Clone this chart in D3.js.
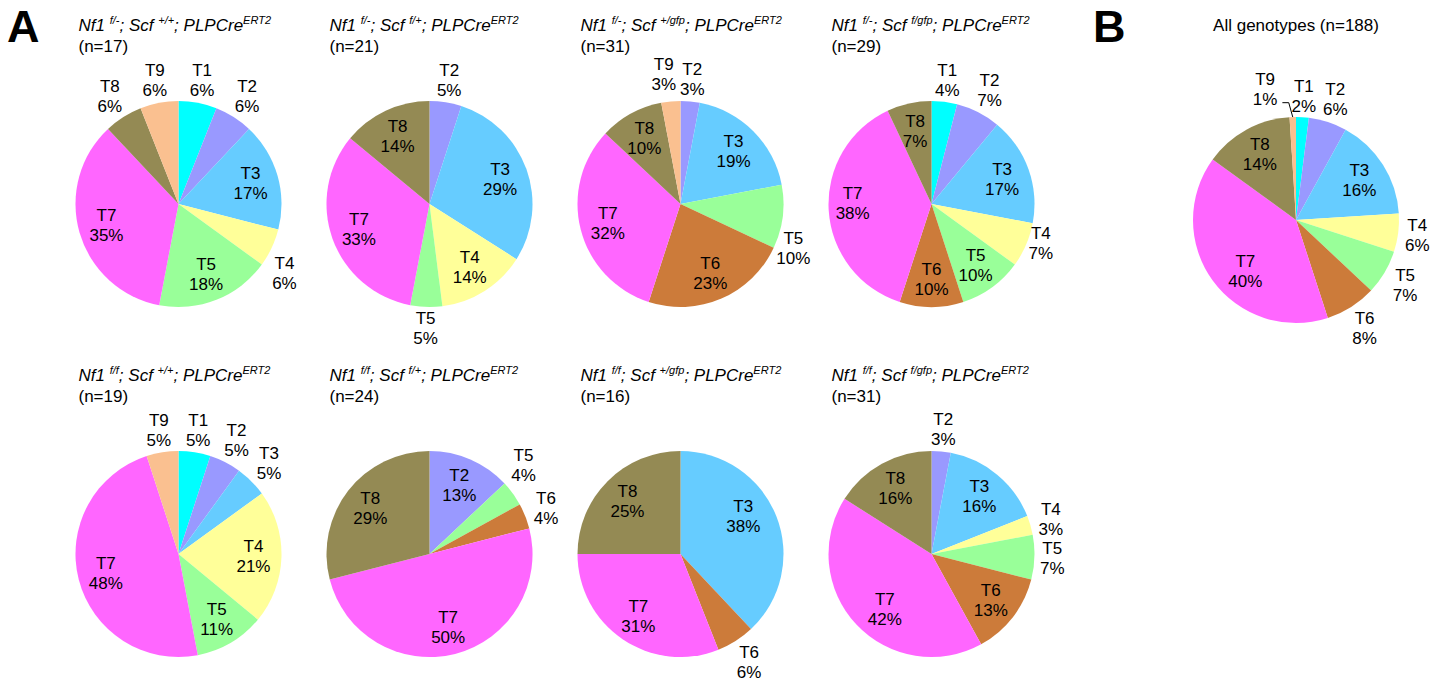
<!DOCTYPE html>
<html><head><meta charset="utf-8">
<script src="https://cdn.jsdelivr.net/npm/d3@7"></script>
<style>
body{margin:0;background:#fff}
svg{display:block}
text{font-family:"Liberation Sans",Arial,Helvetica,sans-serif;fill:#000}
</style>
</head><body>
<svg id="chart" width="1439" height="683"></svg>
<script>
// ---------- DATA ----------
const types = ["T1","T2","T3","T4","T5","T6","T7","T8","T9"];
const typeColors = ["#00FFFF","#9999FF","#66CCFF","#FFFF99","#99FF99","#CC7B3A","#FF66FF","#948A54","#FAC090"];

const nf1Alleles = ["f/-","f/-","f/-","f/-","f/f","f/f","f/f","f/f"];
const scfAlleles = ["+/+","f/+","+/gfp","f/gfp","+/+","f/+","+/gfp","f/gfp"];
const groupN = [17,21,31,29,19,24,16,31];

// percentage of each tumour type T1..T9 per genotype (0 = absent)
const pctNf1fmScfWT    = [6,6,17,6,18,0,35,6,6];
const pctNf1fmScfFl    = [0,5,29,14,5,0,33,14,0];
const pctNf1fmScfGfp   = [0,3,19,0,10,23,32,10,3];
const pctNf1fmScfFlGfp = [4,7,17,7,10,10,38,7,0];
const pctNf1ffScfWT    = [5,5,5,21,11,0,48,0,5];
const pctNf1ffScfFl    = [0,13,0,0,4,4,50,29,0];
const pctNf1ffScfGfp   = [0,0,38,0,0,6,31,25,0];
const pctNf1ffScfFlGfp = [0,3,16,3,7,13,42,16,0];
const groupPct = [pctNf1fmScfWT,pctNf1fmScfFl,pctNf1fmScfGfp,pctNf1fmScfFlGfp,
                  pctNf1ffScfWT,pctNf1ffScfFl,pctNf1ffScfGfp,pctNf1ffScfFlGfp];

const pctAll = [2,6,16,6,7,8,40,14,1];
const nAll = 188;

// ---------- LAYOUT (label placement, not data) ----------
const R = 103;
const colX = [178.5, 429.5, 680.5, 931.5];
const rowY = [204, 554];
const allCenter = [1296, 220];
const outsideLabels = [
  ["T1","T2","T4","T8","T9"], ["T2","T5"], ["T2","T5","T9"], ["T1","T2","T4"],
  ["T1","T2","T3","T9"], ["T5","T6"], ["T6"], ["T2","T4","T5"]
];
const outsideAll = ["T1","T2","T4","T5","T6","T9"];
const labelNudges = [
  {T4:[-8,15]}, {}, {T5:[-13,28],T9:[-5,-5]}, {T4:[-6,-11],T7:[-4,-6]},
  {}, {T5:[-9,-14]}, {T3:[-7,-10]}, {T7:[8,4]}
];
const nudgesAll = {T9:[-27,-7], T7:[10,7]};
const leaderAll = ["T9"];

// ---------- DRAW ----------
const svg = d3.select("#chart");
const pie = d3.pie().sort(null).value(d => d.v);
const arcGen = d3.arc().innerRadius(0).outerRadius(R);
const labelArc = d3.arc().innerRadius(75).outerRadius(75);
const FS = 17;

function drawPie(cx, cy, values, outside, nudges, leaders) {
  const g = svg.append("g").attr("transform", `translate(${cx},${cy})`);
  const data = types.map((t,i) => ({type:t, v:values[i], color:typeColors[i]})).filter(d => d.v > 0);
  const arcs = pie(data);
  g.selectAll("path.slice").data(arcs).join("path")
    .attr("class","slice").attr("d", arcGen).attr("fill", d => d.data.color);
  arcs.forEach(a => {
    const mid = (a.startAngle + a.endAngle) / 2;
    const sx = Math.sin(mid), sy = -Math.cos(mid);
    const t = g.append("text").attr("text-anchor","middle").attr("font-size", FS);
    t.append("tspan").attr("x",0).attr("y",-4).text(a.data.type);
    t.append("tspan").attr("x",0).attr("y",16).text(a.data.v + "%");
    let lx, ly;
    const bb = t.node().getBBox();
    if (outside.includes(a.data.type)) {
      const d = R + 5 + Math.abs(sx) * bb.width / 2 + Math.abs(sy) * 16;
      lx = sx * d; ly = sy * d;
    } else {
      [lx, ly] = labelArc.centroid(a);
    }
    const n = nudges[a.data.type];
    if (n) { lx += n[0]; ly += n[1]; }
    t.attr("transform", `translate(${lx},${ly})`);
    if (leaders && leaders.includes(a.data.type)) {
      const x0 = lx + bb.width / 2 + 5, y0 = ly + 14;
      const ex = sx * R, ey = sy * R;
      g.append("path")
        .attr("d", `M${x0},${y0}H${ex - 4}L${ex},${ey}`)
        .attr("fill","none").attr("stroke","#000").attr("stroke-width",1);
    }
  });
}

function drawTitle(x, y, nf1, scf, n) {
  const t = svg.append("text").attr("x", x).attr("y", y).attr("font-size", FS).attr("font-style","italic");
  const sup = s => t.append("tspan").attr("font-size", 11).attr("dy", -7).text(s);
  const base = s => t.append("tspan").attr("font-size", FS).attr("dy", 7).text(s);
  t.append("tspan").text("Nf1 ");
  sup(nf1);
  base("; Scf ");
  sup(scf);
  base("; PLPCre");
  sup("ERT2");
  svg.append("text").attr("x", x).attr("y", y + 21).attr("font-size", FS).text(`(n=${n})`);
}

groupPct.forEach((vals, i) => {
  const col = i % 4, row = Math.floor(i / 4);
  const cx = colX[col], cy = rowY[row];
  drawTitle(cx - 100, cy - 173, nf1Alleles[i], scfAlleles[i], groupN[i]);
  drawPie(cx, cy, vals, outsideLabels[i], labelNudges[i], null);
});

svg.append("text").attr("x", allCenter[0]).attr("y", 31).attr("text-anchor","middle")
  .attr("font-size", FS).text(`All genotypes (n=${nAll})`);
drawPie(allCenter[0], allCenter[1], pctAll, outsideAll, nudgesAll, leaderAll);

svg.append("text").attr("x", 7).attr("y", 42).attr("font-size", 45).attr("font-weight","bold").text("A");
svg.append("text").attr("x", 1093).attr("y", 42).attr("font-size", 45).attr("font-weight","bold").text("B");
</script>
</body></html>
